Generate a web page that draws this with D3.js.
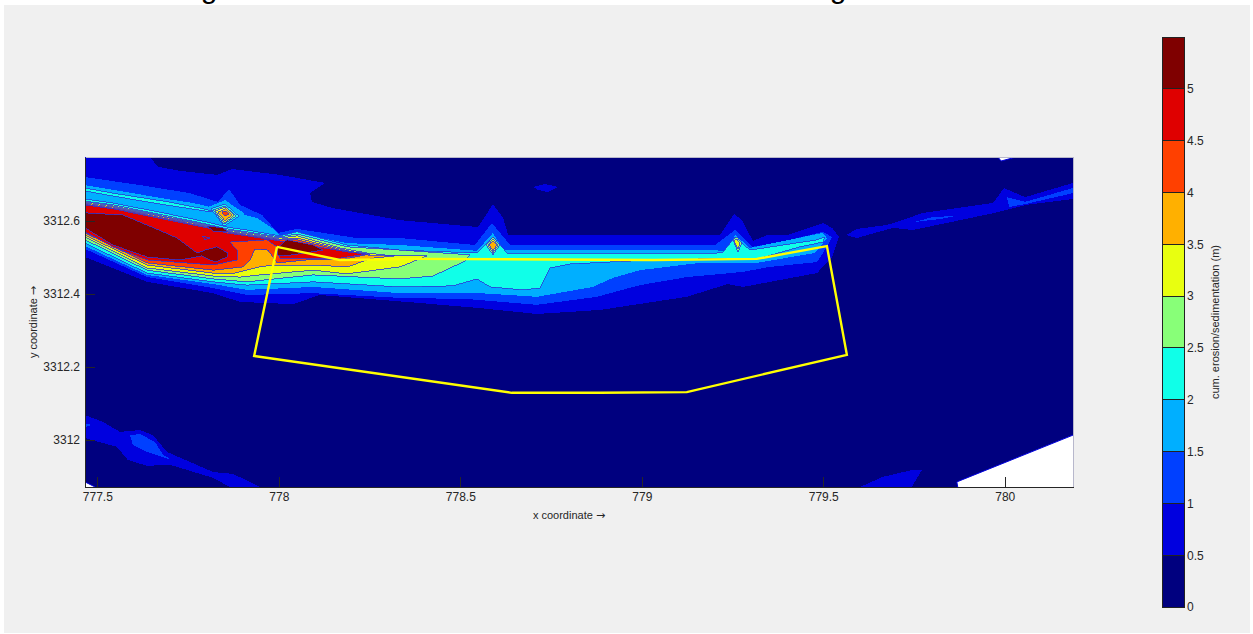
<!DOCTYPE html>
<html>
<head>
<meta charset="utf-8">
<script src="https://cdnjs.cloudflare.com/ajax/libs/d3/7.8.5/d3.min.js"></script>
<style>
  html, body { margin: 0; padding: 0; background: #fff; overflow: hidden; }
  text { font-family: "Liberation Sans", Arial, sans-serif; }
  .tick line, .domain { shape-rendering: crispEdges; }
</style>
</head>
<body>
<div id="my_dataviz"></div>
<script>
// colour classes of the contour plot
var levels = [0, 0.5, 1, 1.5, 2, 2.5, 3, 3.5, 4, 4.5, 5];
var levelColors = ["#00007f", "#0000df", "#0040ff", "#00afff", "#10ffe8", "#88ff78", "#e8ff10", "#ffb000", "#ff4000", "#df0000", "#7f0000"];
var colorbarTicks = [0, 0.5, 1, 1.5, 2, 2.5, 3, 3.5, 4, 4.5, 5];
var xTicks = [777.5, 778, 778.5, 779, 779.5, 780];
var yTicks = [3312, 3312.2, 3312.4, 3312.6];

// contour rings [x, y]
var level05 = [
  [[777.466,3312.775],[777.645,3312.775],[777.667,3312.748],[777.728,3312.737],[777.830,3312.726],[777.871,3312.742],[778.003,3312.726],[778.127,3312.704],[778.086,3312.676],[778.091,3312.652],[778.149,3312.635],[778.334,3312.602],[778.549,3312.583],[778.590,3312.646],[778.618,3312.608],[778.632,3312.561],[779.215,3312.561],[779.254,3312.619],[779.276,3312.602],[779.306,3312.545],[779.345,3312.561],[779.400,3312.561],[779.499,3312.594],[779.524,3312.581],[779.543,3312.556],[779.524,3312.501],[779.483,3312.457],[779.279,3312.419],[779.237,3312.427],[779.124,3312.392],[778.885,3312.356],[778.711,3312.345],[778.554,3312.361],[778.389,3312.375],[778.113,3312.397],[778.039,3312.372],[777.893,3312.378],[777.819,3312.402],[777.637,3312.433],[777.466,3312.501]],
  [[779.563,3312.561],[779.593,3312.578],[779.676,3312.589],[779.711,3312.600],[779.775,3312.622],[779.968,3312.649],[779.998,3312.690],[780.056,3312.665],[780.188,3312.704],[780.188,3312.660],[780.061,3312.644],[779.973,3312.622],[779.747,3312.575],[779.692,3312.581],[779.593,3312.553]],
  [[777.466,3312.068],[777.516,3312.049],[777.562,3312.022],[777.618,3312.027],[777.653,3312.013],[777.692,3311.967],[777.819,3311.912],[777.874,3311.907],[777.948,3311.871],[777.865,3311.871],[777.819,3311.896],[777.700,3311.932],[777.637,3311.929],[777.584,3311.945],[777.554,3311.981],[777.466,3312.005]],
  [[779.601,3311.871],[779.665,3311.899],[779.747,3311.918],[779.772,3311.918],[779.744,3311.871]],
  [[778.700,3312.693],[778.733,3312.701],[778.769,3312.693],[778.741,3312.679],[778.714,3312.685]]
];
var level10 = [
  [[777.466,3312.720],[777.618,3312.698],[777.755,3312.676],[777.832,3312.652],[777.863,3312.687],[777.893,3312.644],[777.954,3312.616],[777.998,3312.567],[778.050,3312.578],[778.215,3312.553],[778.334,3312.553],[778.540,3312.534],[778.587,3312.594],[778.637,3312.534],[779.202,3312.534],[779.257,3312.575],[779.304,3312.529],[779.381,3312.542],[779.499,3312.570],[779.524,3312.556],[779.513,3312.534],[779.483,3312.487],[779.353,3312.474],[779.276,3312.460],[779.124,3312.446],[778.995,3312.424],[778.876,3312.392],[778.711,3312.370],[778.518,3312.386],[778.334,3312.389],[778.094,3312.402],[777.912,3312.397],[777.819,3312.416],[777.637,3312.446],[777.466,3312.523]],
  [[780.006,3312.665],[780.056,3312.652],[780.188,3312.690],[780.188,3312.676],[780.056,3312.646],[780.012,3312.638]],
  [[779.752,3312.597],[779.802,3312.611],[779.863,3312.613],[779.821,3312.605]],
  [[777.590,3312.013],[777.618,3312.016],[777.659,3311.994],[777.681,3311.959],[777.706,3311.945],[777.637,3311.967],[777.598,3311.986]],
  [[777.466,3312.046],[777.485,3312.041],[777.466,3312.035]]
];
var level15 = [
  [[777.466,3312.698],[777.543,3312.685],[777.692,3312.660],[777.764,3312.649],[777.824,3312.635],[777.885,3312.622],[777.940,3312.608],[777.981,3312.581],[778.003,3312.561],[778.050,3312.567],[778.188,3312.539],[778.334,3312.534],[778.546,3312.518],[778.590,3312.567],[778.618,3312.520],[779.202,3312.520],[779.235,3312.515],[779.257,3312.561],[779.298,3312.526],[779.499,3312.567],[779.510,3312.553],[779.477,3312.512],[779.317,3312.485],[779.160,3312.485],[778.995,3312.465],[778.921,3312.444],[778.865,3312.419],[778.711,3312.392],[778.554,3312.402],[778.334,3312.402],[778.094,3312.419],[777.912,3312.411],[777.819,3312.427],[777.637,3312.452],[777.466,3312.531]],
  [[777.797,3312.635],[777.852,3312.657],[777.907,3312.619],[777.849,3312.581]]
];
var level20 = [
  [[777.466,3312.660],[777.543,3312.649],[777.681,3312.622],[777.802,3312.597],[777.857,3312.583],[777.912,3312.575],[778.003,3312.559],[778.050,3312.570],[778.188,3312.534],[778.334,3312.520],[778.546,3312.512],[778.590,3312.556],[778.629,3312.512],[779.207,3312.512],[779.224,3312.515],[779.257,3312.556],[779.298,3312.520],[779.483,3312.548],[779.505,3312.556],[779.499,3312.542],[779.436,3312.529],[779.326,3312.498],[779.270,3312.498],[779.031,3312.493],[778.802,3312.482],[778.747,3312.471],[778.719,3312.416],[778.673,3312.411],[778.582,3312.419],[778.546,3312.441],[778.480,3312.422],[778.334,3312.419],[778.094,3312.433],[777.912,3312.424],[777.819,3312.433],[777.637,3312.457],[777.466,3312.539]],
  [[777.466,3312.690],[777.543,3312.676],[777.695,3312.652],[777.783,3312.635],[777.832,3312.624],[777.797,3312.627],[777.686,3312.644],[777.543,3312.668],[777.466,3312.682]],
  [[777.813,3312.633],[777.852,3312.646],[777.890,3312.613],[777.849,3312.586]]
];
var level25 = [
  [[777.466,3312.654],[777.543,3312.644],[777.681,3312.616],[777.802,3312.591],[777.857,3312.578],[777.912,3312.570],[778.003,3312.556],[778.050,3312.564],[778.188,3312.529],[778.334,3312.520],[778.527,3312.507],[778.513,3312.490],[778.472,3312.471],[778.425,3312.449],[778.334,3312.441],[778.094,3312.452],[777.912,3312.433],[777.819,3312.441],[777.637,3312.465],[777.466,3312.548]],
  [[777.819,3312.630],[777.852,3312.641],[777.882,3312.613],[777.849,3312.591]],
  [[778.571,3312.534],[778.590,3312.556],[778.609,3312.534],[778.590,3312.507]],
  [[779.251,3312.548],[779.262,3312.556],[779.276,3312.539],[779.265,3312.515]]
];
var level30 = [
  [[777.466,3312.652],[777.543,3312.641],[777.681,3312.613],[777.802,3312.589],[777.857,3312.575],[777.912,3312.567],[778.003,3312.553],[778.050,3312.559],[778.168,3312.526],[778.243,3312.512],[778.315,3312.504],[778.408,3312.504],[778.334,3312.474],[778.188,3312.455],[778.094,3312.465],[777.948,3312.452],[777.893,3312.446],[777.819,3312.449],[777.637,3312.471],[777.466,3312.556]],
  [[777.824,3312.627],[777.854,3312.638],[777.876,3312.616],[777.852,3312.594]],
  [[778.576,3312.534],[778.590,3312.550],[778.604,3312.534],[778.590,3312.512]],
  [[779.254,3312.545],[779.262,3312.550],[779.270,3312.539],[779.265,3312.523]]
];
var level35 = [
  [[777.466,3312.649],[777.543,3312.638],[777.681,3312.611],[777.802,3312.586],[777.857,3312.572],[777.912,3312.564],[778.003,3312.550],[778.050,3312.553],[778.168,3312.523],[778.259,3312.504],[778.320,3312.504],[778.259,3312.498],[778.188,3312.474],[778.094,3312.479],[777.984,3312.479],[777.948,3312.474],[777.879,3312.457],[777.819,3312.457],[777.637,3312.479],[777.466,3312.561]],
  [[777.832,3312.624],[777.854,3312.633],[777.871,3312.616],[777.852,3312.600]],
  [[778.579,3312.534],[778.590,3312.545],[778.601,3312.534],[778.590,3312.518]]
];
var level40 = [
  [[777.466,3312.646],[777.543,3312.635],[777.681,3312.608],[777.802,3312.583],[777.857,3312.570],[777.912,3312.561],[778.003,3312.548],[778.050,3312.548],[778.168,3312.520],[778.251,3312.509],[778.168,3312.493],[778.078,3312.493],[777.995,3312.485],[777.970,3312.520],[777.934,3312.523],[777.921,3312.493],[777.901,3312.474],[777.819,3312.465],[777.637,3312.485],[777.466,3312.567]],
  [[777.843,3312.624],[777.854,3312.627],[777.863,3312.619],[777.852,3312.613]]
];
var level45 = [
  [[777.466,3312.644],[777.543,3312.633],[777.681,3312.605],[777.802,3312.581],[777.857,3312.567],[777.912,3312.559],[778.003,3312.545],[778.058,3312.537],[778.188,3312.515],[778.243,3312.509],[778.168,3312.498],[778.003,3312.498],[777.995,3312.529],[777.967,3312.548],[777.865,3312.542],[777.885,3312.520],[777.885,3312.493],[777.819,3312.479],[777.637,3312.493],[777.543,3312.529],[777.466,3312.570]]
];
var level50 = [
  [[777.466,3312.622],[777.571,3312.616],[777.681,3312.570],[777.719,3312.553],[777.775,3312.512],[777.797,3312.520],[777.830,3312.529],[777.860,3312.512],[777.857,3312.501],[777.824,3312.487],[777.788,3312.504],[777.728,3312.493],[777.637,3312.501],[777.543,3312.534],[777.466,3312.581]],
  [[777.802,3312.586],[777.846,3312.581],[777.860,3312.570],[777.819,3312.572]],
  [[778.022,3312.548],[778.094,3312.534],[778.122,3312.520],[778.039,3312.507],[777.998,3312.504],[777.995,3312.526]]
];
// small lower patch inside the 5+ area
var pocket45 = [
  [[777.788,3312.559],[777.810,3312.553],[777.797,3312.548]]
];
// areas without data, run past the axes so only the open edge keeps its line
var noData = [
  [[779.981,3312.775],[779.990,3312.764],[780.031,3312.775]],
  [[779.868,3311.885],[779.874,3311.850],[780.250,3311.850],[780.250,3312.038]],
  [[777.466,3311.885],[777.494,3311.871],[777.494,3311.850],[777.440,3311.850],[777.440,3311.892]]
];
// yellow outline
var boundaryX = [777.995, 778.168, 778.389, 779.031, 779.317, 779.510, 779.565, 779.124, 778.885, 778.642, 777.932, 777.995];
var boundaryY = [3312.529, 3312.493, 3312.496, 3312.493, 3312.496, 3312.531, 3312.233, 3312.131, 3312.129, 3312.129, 3312.230, 3312.529];

var width = 1253, height = 634;

var svg = d3.select("#my_dataviz")
  .append("svg")
  .attr("width", width)
  .attr("height", height)
  .style("display", "block");

// bits of the cut off title
svg.selectAll(".titlebit")
  .data([209, 838])
  .enter()
  .append("text")
  .attr("class", "titlebit")
  .attr("x", function (d) { return d; })
  .attr("y", -2)
  .style("text-anchor", "middle")
  .style("font-size", "30px")
  .text("g");

// grey figure background
svg.append("rect")
  .attr("x", 4).attr("y", 5)
  .attr("width", 1246).attr("height", 628)
  .attr("fill", "#f0f0f0");

var x = d3.scaleLinear().domain([777.466, 780.188]).range([85, 1073]);
var y = d3.scaleLinear().domain([3311.871, 3312.775]).range([487, 157]);

var ring = d3.line()
  .x(function (d) { return x(d[0]); })
  .y(function (d) { return y(d[1]); })
  .curve(d3.curveLinearClosed);

svg.append("clipPath").attr("id", "axesclip")
  .append("rect")
  .attr("x", 85).attr("y", 157)
  .attr("width", 988).attr("height", 330);

var plot = svg.append("g").attr("clip-path", "url(#axesclip)");

// lowest class fills the whole axes
plot.append("rect")
  .attr("x", 85).attr("y", 157)
  .attr("width", 988).attr("height", 330)
  .attr("fill", levelColors[0]);

var contourSets = [
  [0.5, level05], [1, level10], [1.5, level15], [2, level20], [2.5, level25],
  [3, level30], [3.5, level35], [4, level40], [4.5, level45], [5, level50], [4.5, pocket45]
];

contourSets.forEach(function (set) {
  var color = levelColors[levels.indexOf(set[0])];
  plot.selectAll(null)
    .data(set[1])
    .enter()
    .append("path")
    .attr("d", ring)
    .attr("fill", color)
    .attr("stroke", set[0] >= 2 ? "#2a36d8" : "none")
    .attr("stroke-width", 0.8)
    .style("shape-rendering", "crispEdges");
});

plot.selectAll(".nodata")
  .data(noData)
  .enter()
  .append("path")
  .attr("class", "nodata")
  .attr("d", ring)
  .attr("fill", "#fff")
  .attr("stroke", "#0000df")
  .attr("stroke-width", 1);

plot.append("path")
  .datum(boundaryX.map(function (d, i) { return [d, boundaryY[i]]; }))
  .attr("fill", "none")
  .attr("stroke", "#ffff00")
  .attr("stroke-width", 2.4)
  .attr("d", d3.line()
    .x(function (d) { return x(d[0]); })
    .y(function (d) { return y(d[1]); }));

// thin lines on the open sides of the axes
svg.append("path")
  .attr("d", "M85.5,157.5H1073.5V487")
  .attr("fill", "none")
  .attr("stroke", "#b8b8cc")
  .style("shape-rendering", "crispEdges");

svg.append("g")
  .attr("transform", "translate(0,487)")
  .call(d3.axisBottom(x).tickValues(xTicks).tickSizeInner(-10).tickSizeOuter(0).tickPadding(5).tickFormat(function (d) { return d; }))
  .style("font-size", "12px")
  .style("color", "#262626");

svg.append("g")
  .attr("transform", "translate(85,0)")
  .call(d3.axisLeft(y).tickValues(yTicks).tickSizeInner(-10).tickSizeOuter(0).tickPadding(5).tickFormat(function (d) { return d; }))
  .style("font-size", "12px")
  .style("color", "#262626");

// text label for the x axis
var xlabel = svg.append("text")
  .attr("x", 569)
  .attr("y", 519)
  .style("text-anchor", "middle")
  .style("font-size", "11px")
  .style("fill", "#262626")
  .text("x coordinate ");
xlabel.append("tspan").style("font-family", "DejaVu Sans").text("→");

// text label for the y axis
var ylabel = svg.append("text")
  .attr("transform", "translate(37,322) rotate(-90)")
  .style("text-anchor", "middle")
  .style("font-size", "11px")
  .style("fill", "#262626")
  .text("y coordinate ");
ylabel.append("tspan").style("font-family", "DejaVu Sans").text("→");

// colorbar
var cbar = d3.scaleLinear().domain([0, 5.5]).range([607, 37]);

svg.selectAll(".cbar")
  .data(levels)
  .enter()
  .append("rect")
  .attr("class", "cbar")
  .attr("x", 1162)
  .attr("width", 22)
  .attr("y", function (d) { return cbar(d + 0.5); })
  .attr("height", function (d) { return cbar(d) - cbar(d + 0.5); })
  .attr("fill", function (d, i) { return levelColors[i]; })
  .attr("stroke", "#222")
  .attr("stroke-width", 1)
  .style("shape-rendering", "crispEdges");

svg.append("g")
  .attr("transform", "translate(1184,0)")
  .call(d3.axisRight(cbar).tickValues(colorbarTicks).tickSize(0).tickPadding(3).tickFormat(function (d) { return d; }))
  .style("font-size", "12px")
  .style("color", "#262626")
  .call(function (g) { g.select(".domain").remove(); });

svg.append("text")
  .attr("transform", "translate(1219,322) rotate(-90)")
  .style("text-anchor", "middle")
  .style("font-size", "11px")
  .style("fill", "#262626")
  .text("cum. erosion/sedimentation (m)");
</script>
</body>
</html>
